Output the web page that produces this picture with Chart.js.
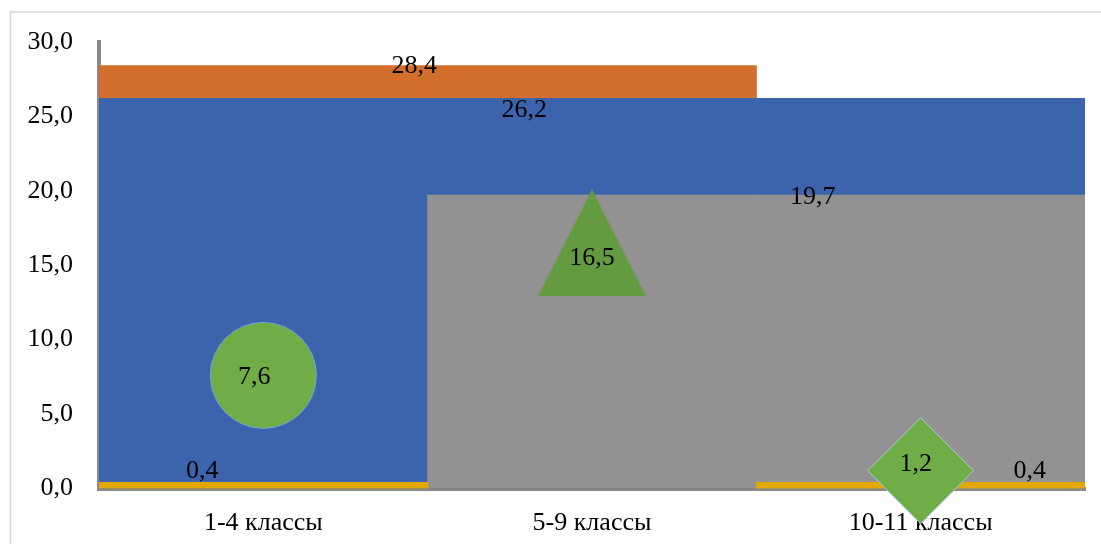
<!DOCTYPE html>
<html lang="ru">
<head>
<meta charset="UTF-8">
<title>Классы</title>
<script src="https://cdn.jsdelivr.net/npm/chart.js@4.4.1/dist/chart.umd.min.js"></script>
<style>
    body { margin: 0; background: #ffffff; overflow: hidden; }
    canvas { display: block; }
</style>
</head>
<body>
<canvas id="graficoClases" width="1101" height="544"></canvas>
<script>
// Datos del grafico
const categorias = ['1-4 классы', '5-9 классы', '10-11 классы'];
const serieNaranja = [28.4, 28.4, null];
const serieAzul = [26.2, 26.2, 26.2];
const serieGris = [null, 19.7, 19.7];
const serieAmarilla = [0.4, null, 0.4];
const serieVerde = [7.6, 16.5, 1.2];
const ticksEjeY = [0, 5, 10, 15, 20, 25, 30];

const fuente = "'Liberation Serif', 'Times New Roman', serif";

function formatoComa(valor) {
    return valor.toFixed(1).replace('.', ',');
}

// Triangulo dibujado en un canvas aparte para usarlo como pointStyle
function crearTriangulo(ancho, alto, color) {
    const c = document.createElement('canvas');
    c.width = ancho;
    c.height = alto;
    const g = c.getContext('2d');
    g.fillStyle = color;
    g.beginPath();
    g.moveTo(ancho / 2, 0);
    g.lineTo(ancho, alto);
    g.lineTo(0, alto);
    g.closePath();
    g.fill();
    return c;
}

// Marco gris claro alrededor del grafico
const marcoPlugin = {
    id: 'marco',
    beforeDraw(chart) {
        const ctx = chart.ctx;
        ctx.save();
        ctx.strokeStyle = '#d6d6d6';
        ctx.lineWidth = 1.5;
        ctx.strokeRect(10.5, 12, 2000, 2000);
        ctx.restore();
    }
};

// Etiquetas de valores
const etiquetasPlugin = {
    id: 'etiquetas',
    afterDatasetsDraw(chart, args, opts) {
        const { ctx, scales: { x, y } } = chart;
        ctx.save();
        ctx.font = opts.font;
        ctx.fillStyle = '#000000';
        ctx.textAlign = 'center';
        ctx.textBaseline = 'middle';
        opts.items.forEach(item => {
            const valor = chart.data.datasets[item.serie].data[item.indice];
            const px = x.getPixelForValue(item.indice) + item.dx;
            const py = y.getPixelForValue(valor) + item.dy;
            ctx.fillText(formatoComa(valor), px, py);
        });
        ctx.restore();
    }
};

const ctx = document.getElementById('graficoClases').getContext('2d');
new Chart(ctx, {
    type: 'bar',
    data: {
        labels: categorias,
        datasets: [
            {
                label: 'Naranja',
                data: serieNaranja,
                backgroundColor: '#d36f2c',
                grouped: false,
                barPercentage: 1,
                categoryPercentage: 1,
                inflateAmount: 0.5,
                order: 5
            },
            {
                label: 'Azul',
                data: serieAzul,
                backgroundColor: '#3c64ac',
                grouped: false,
                barPercentage: 1,
                categoryPercentage: 1,
                inflateAmount: 0.5,
                order: 4
            },
            {
                label: 'Gris',
                data: serieGris,
                backgroundColor: '#929292',
                grouped: false,
                barPercentage: 1,
                categoryPercentage: 1,
                inflateAmount: 0.5,
                order: 3
            },
            {
                label: 'Amarilla',
                data: serieAmarilla,
                backgroundColor: '#e2a800',
                grouped: false,
                barPercentage: 1,
                categoryPercentage: 1,
                inflateAmount: 0.5,
                order: 2
            },
            {
                type: 'line',
                label: 'Verde',
                data: serieVerde,
                showLine: false,
                clip: false,
                pointStyle: ['circle', crearTriangulo(108, 107, '#659b40'), 'rectRot'],
                pointRadius: [53, 54, 53],
                pointHoverRadius: [53, 54, 53],
                pointBackgroundColor: ['#70ad47', '#659b40', '#70ad47'],
                pointBorderColor: ['#6fa6d8', '#659b40', '#a9c9e8'],
                pointBorderWidth: [1, 0, 1],
                order: 1
            }
        ]
    },
    options: {
        responsive: false,
        animation: false,
        layout: {
            autoPadding: false,
            padding: { top: 42, right: 16, bottom: 0, left: 0 }
        },
        plugins: {
            legend: { display: false },
            tooltip: { enabled: false },
            etiquetas: {
                font: '26px ' + fuente,
                items: [
                    { serie: 0, indice: 0, dx: 151, dy: 0 },
                    { serie: 1, indice: 0, dx: 261, dy: 12 },
                    { serie: 2, indice: 2, dx: -108, dy: 2 },
                    { serie: 3, indice: 0, dx: -61, dy: -11 },
                    { serie: 3, indice: 2, dx: 109, dy: -11 },
                    { serie: 4, indice: 0, dx: -9, dy: 2 },
                    { serie: 4, indice: 1, dx: 0, dy: 15 },
                    { serie: 4, indice: 2, dx: -5, dy: -6 }
                ]
            }
        },
        scales: {
            x: {
                grid: { display: false, drawTicks: false },
                border: { display: true, color: '#898989', width: 4 },
                ticks: {
                    color: '#000000',
                    font: { family: fuente, size: 26 },
                    padding: 19,
                    maxRotation: 0,
                    autoSkip: false
                },
                afterFit(scale) {
                    scale.height = 55.5;
                    scale.paddingLeft = 0;
                    scale.paddingRight = 0;
                }
            },
            y: {
                min: ticksEjeY[0],
                max: ticksEjeY[ticksEjeY.length - 1],
                afterBuildTicks(scale) {
                    scale.ticks = ticksEjeY.map(v => ({ value: v }));
                },
                grid: { display: false, drawTicks: false },
                border: { display: true, color: '#898989', width: 4 },
                ticks: {
                    color: '#000000',
                    font: { family: fuente, size: 26 },
                    padding: 26,
                    callback: valor => formatoComa(valor)
                },
                afterFit(scale) {
                    scale.width = 99;
                    scale.paddingTop = 0;
                    scale.paddingBottom = 0;
                }
            }
        }
    },
    plugins: [marcoPlugin, etiquetasPlugin]
});
</script>
</body>
</html>
